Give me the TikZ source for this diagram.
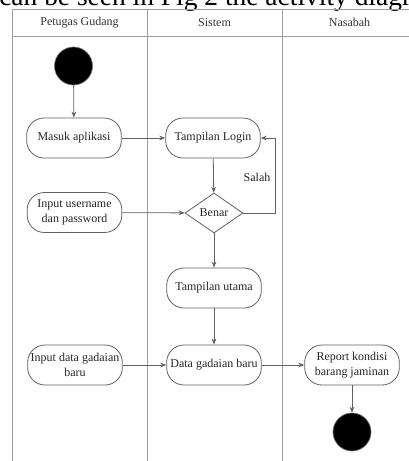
\documentclass[tikz,border=0pt]{standalone}
\usepackage{fontspec}
\setmainfont{Liberation Serif}
\usetikzlibrary{shapes.geometric,arrows.meta}
\begin{document}
\begin{tikzpicture}[x=0.75pt,y=-0.75pt,
  lane/.style={draw=black!38, line width=0.6pt},
  act/.style={draw=black!62, line width=0.6pt, rectangle, rounded corners=13pt,
    minimum width=71pt, minimum height=30pt, inner sep=1pt, align=center,
    font=\fontsize{9pt}{11pt}\selectfont, text=black!85},
  dec/.style={draw=black!62, line width=0.6pt, diamond, minimum width=43.5pt,
    minimum height=30pt, inner sep=0pt, font=\fontsize{9pt}{11pt}\selectfont, text=black!85},
  terminal/.style={circle, fill=black, draw=black!55, line width=0.5pt, minimum size=28.5pt, inner sep=0pt},
  flow/.style={draw=black!62, line width=0.6pt, -{Stealth[length=4.5pt,width=3.5pt]}},
  head/.style={font=\fontsize{9pt}{10pt}\selectfont, text=black!80},
  lbl/.style={font=\fontsize{9pt}{10pt}\selectfont, text=black!85},
]
\useasboundingbox (0,0) rectangle (408,461);
\fill[white] (0,0) rectangle (408,461);
% clipped caption text above the diagram (cut off at the top, as in the reference)
\begin{scope}
  \clip (0,0) rectangle (408,461);
  \node[anchor=base west, inner sep=0pt, font=\fontsize{20.6pt}{23pt}\selectfont] (cap) at (-1,5.7) {can be seen in Fig 2 the activity diagram};
\end{scope}
% swimlanes
\draw[lane] (420,9) -- (12,9) -- (12,470);
\draw[lane] (12,36) -- (420,36);
\draw[lane] (147,9) -- (147,470);
\draw[lane] (282,9) -- (282,470);
\draw[lane] (417,9) -- (417,470);
\node[head] (h1) at (79.5,22.5) {Petugas Gudang};
\node[head] (h2) at (214.5,22.5) {Sistem};
\node[head] (h3) at (349.5,22.5) {Nasabah};
% nodes
\node[terminal] (start) at (73.5,66) {};
\node[act] (masuk) at (74,138) {Masuk aplikasi};
\node[act] (login) at (213,138) {Tampilan Login};
\node[act] (input) at (74.5,212.5) {Input username\\dan password};
\node[dec] (benar) at (214,213) {Benar};
\node[act] (utama) at (214,288) {Tampilan utama};
\node[act] (inputdata) at (75,365) {Input data gadaian\\baru};
\node[act] (data) at (214,365) {Data gadaian baru};
\node[act] (report) at (352,365) {Report kondisi\\barang jaminan};
\node[terminal] (end) at (352,432) {};
\coordinate (lp) at (275,213);
% connectors
\draw[flow] (start) -- (masuk);
\draw[flow] (masuk) -- (login);
\draw[flow] (login) -- (benar);
\draw[flow] (input) -- (benar);
\draw[flow] (benar.east) -- (lp) |- (login.east);
\node[lbl] (salah) at (257,177) {Salah};
\draw[flow] (benar) -- (utama);
\draw[flow] (utama) -- (data);
\draw[flow] (inputdata) -- (data);
\draw[flow] (data) -- (report);
\draw[flow] (report) -- (end);
\end{tikzpicture}
\end{document}
